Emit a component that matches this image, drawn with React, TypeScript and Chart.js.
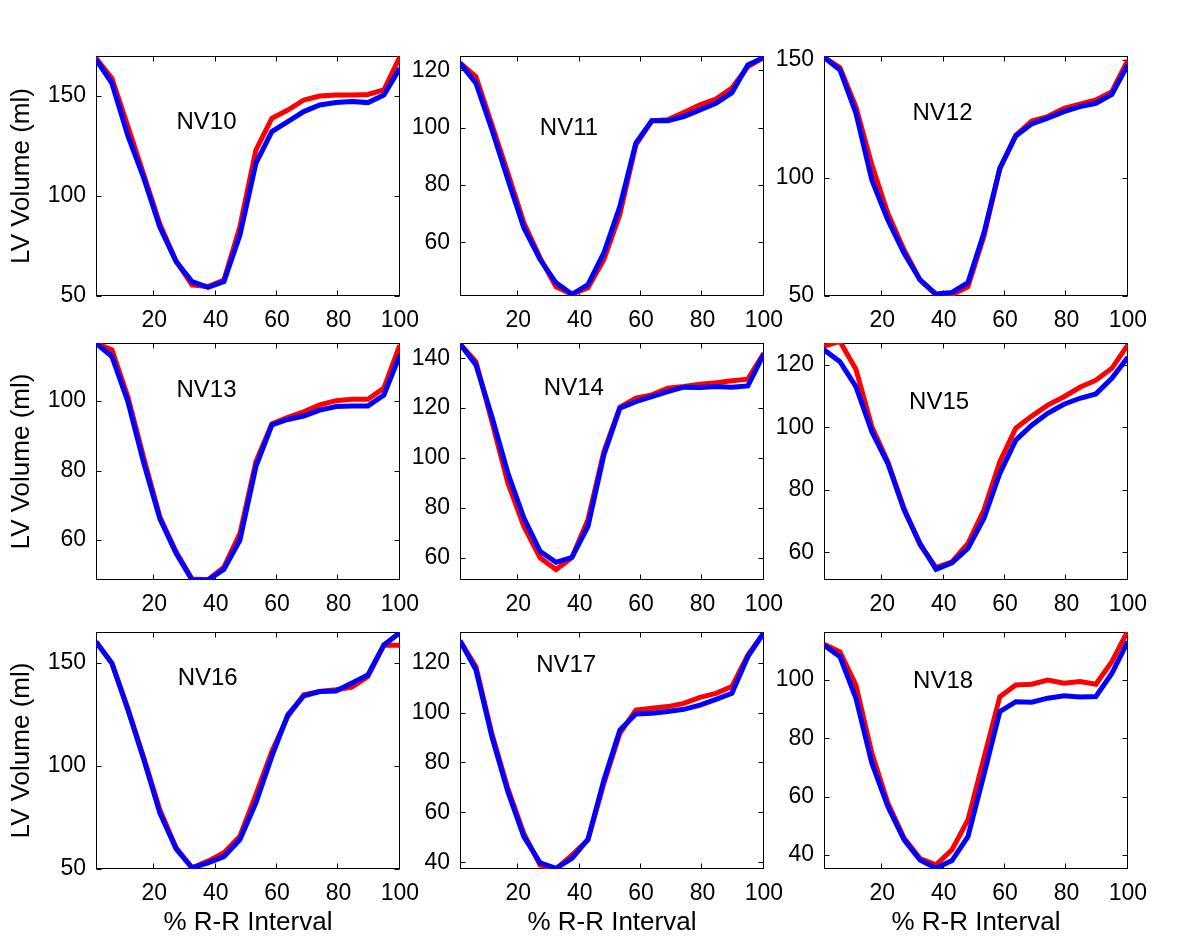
import React, { useEffect, useRef } from "react";
import { Chart, registerables } from "chart.js";

Chart.register(...registerables);

// ---------- data ----------
const rrPercent = [1, 6.2, 11.4, 16.6, 21.8, 27.1, 32.3, 37.5, 42.7, 47.9, 53.1, 58.3, 63.5, 68.7, 73.9, 79.2, 84.4, 89.6, 94.8, 100];
const xTickValues = [20, 40, 60, 80, 100];

const nv10Blue = [168.3, 156.3, 130, 108.8, 84.5, 67.2, 57.2, 54.3, 57.2, 80.5, 116.3, 132.2, 137.2, 142.2, 145.5, 146.7, 147.2, 146.7, 150.5, 163.8];
const nv10Red = [169, 158.8, 134.7, 110.5, 86, 67.5, 55.5, 54.7, 58, 84.7, 123, 138.8, 143, 148, 150, 150.5, 150.5, 150.8, 153, 169.5];
const nv11Blue = [122.5, 115.5, 99.3, 81.9, 65.1, 54, 45.9, 41.9, 45.3, 56.4, 72.6, 94.6, 102.4, 102.4, 103.9, 106.2, 108.5, 112.2, 121.9, 124.5];
const nv11Red = [122.6, 117.8, 101, 84.2, 66.8, 54.6, 44.5, 41.9, 44.2, 54, 69.8, 94, 102.4, 102.8, 105.3, 108, 110, 113.8, 121.3, 124.5];
const nv12Blue = [151, 145.6, 127.3, 99, 82.2, 68.1, 56.8, 50.8, 51.5, 55.7, 76.6, 104, 117.7, 122.8, 125.2, 128, 130.1, 131.5, 135.3, 147.7];
const nv12Red = [151, 146.6, 130, 105.4, 85, 69.5, 56.8, 50.5, 50.5, 53.9, 75.2, 104, 118, 124, 125.9, 129.4, 131.1, 132.9, 136.4, 149.8];
const nv13Blue = [116.6, 112.8, 99.8, 82, 66.2, 56.2, 48.5, 48.5, 51.6, 60, 81.1, 93.1, 94.7, 95.7, 97.4, 98.4, 98.6, 98.6, 101.7, 113.2];
const nv13Red = [116.6, 114.7, 101.2, 83.5, 66.7, 56.6, 48.8, 48.6, 52.2, 61.9, 82.5, 93.4, 95.3, 96.9, 98.9, 100.1, 100.5, 100.5, 103.7, 116.1];
const nv14Blue = [145.7, 137.3, 116.6, 94, 76, 62.6, 58.2, 60.2, 72.6, 101.3, 120, 122.6, 124.6, 126.6, 128.4, 128.3, 128.7, 128.4, 128.9, 141.7];
const nv14Red = [145.7, 138.6, 114.6, 90, 72.6, 60, 55.3, 60.2, 75.3, 102.6, 120.4, 124, 125.3, 128, 128.7, 129.6, 130.2, 131, 131.6, 142];
const nv15Blue = [124.8, 121, 113, 98.6, 88.4, 73.5, 62.8, 54.5, 56.6, 61.2, 70.8, 85.2, 95.9, 100.7, 104.5, 107.4, 109.3, 110.7, 115.7, 122.4];
const nv15Red = [126, 127.5, 118.6, 100.2, 89, 74, 62.3, 55.1, 56.9, 62.8, 73.5, 89, 99.7, 103.6, 107.1, 109.8, 112.8, 115.1, 118.9, 126.4];
const nv16Blue = [160.3, 149.8, 127.2, 103, 77.2, 59.8, 50.6, 53, 56, 64.3, 82.1, 104.6, 124.8, 134, 136.1, 136.4, 140.2, 144.2, 158.7, 164.7];
const nv16Red = [160.3, 149.8, 127.9, 103.8, 78.8, 60.3, 50.6, 53.8, 57.9, 65.9, 86.1, 107, 124, 134.5, 136.1, 137, 138.2, 143.4, 158.6, 158.6];
const nv17Blue = [128.8, 117.1, 90.3, 68.3, 50.3, 39.8, 37.6, 41.6, 49.2, 73, 93, 99.4, 99.7, 100.4, 101.3, 103, 105.3, 107.7, 122.4, 132];
const nv17Red = [128.8, 118.4, 91.5, 69.5, 51.5, 38.9, 37.3, 42.9, 49, 71.7, 91.7, 101, 101.7, 102.4, 103.7, 106.1, 107.7, 110.4, 123.1, 132];
const nv18Blue = [112, 108, 93.8, 71.5, 56.6, 45.2, 38.3, 35.5, 38.1, 46.3, 67.5, 89.2, 92.6, 92.4, 93.8, 94.6, 94.2, 94.4, 102.3, 113.2];
const nv18Red = [112.3, 109.7, 98.3, 74.9, 57.8, 45.8, 38.8, 36.6, 41.8, 52, 73.2, 94.3, 98.3, 98.6, 100, 98.9, 99.5, 98.6, 106.3, 116.9];

const panelNames = ["NV10", "NV11", "NV12", "NV13", "NV14", "NV15", "NV16", "NV17", "NV18"];
const blueSeries = [nv10Blue, nv11Blue, nv12Blue, nv13Blue, nv14Blue, nv15Blue, nv16Blue, nv17Blue, nv18Blue];
const redSeries = [nv10Red, nv11Red, nv12Red, nv13Red, nv14Red, nv15Red, nv16Red, nv17Red, nv18Red];
const yMins = [50, 41.3, 50, 48.5, 51.1, 51.1, 50, 37.3, 35.2];
const yMaxs = [170, 125, 151.5, 116.7, 146.1, 127, 165, 132.3, 116.5];
const yTickLists = [
  [50, 100, 150],
  [60, 80, 100, 120],
  [50, 100, 150],
  [60, 80, 100],
  [60, 80, 100, 120, 140],
  [60, 80, 100, 120],
  [50, 100, 150],
  [40, 60, 80, 100, 120],
  [40, 60, 80, 100],
];
// panel-name anchor points (data coordinates)
const labelX = [37.0, 36.5, 39.6, 37.0, 38.1, 38.5, 37.4, 35.6, 39.8];
const labelY = [137, 99.7, 127.1, 103.0, 127.8, 108.1, 142.4, 118.9, 99.5];

const xAxisTitle = "% R-R Interval";
const yAxisTitle = "LV Volume (ml)";

// ---------- layout ----------
const FONT = "'Liberation Sans', Arial, Helvetica, sans-serif";
const colLeft = [96, 460, 824];
const rowTop = [56, 343, 632];
const plotW = [304, 304, 304];
const plotH = [240, 237, 237];
const PAD_TOP = 24;
const PAD_RIGHT = 30;

const matlabAxes = {
  id: "matlabAxes",
  beforeDatasetsDraw(chart: any, _args: any, opts: any) {
    const { ctx, chartArea: a, scales } = chart;
    const L = Math.round(a.left) + 0.5;
    const R = Math.round(a.right) - 0.5;
    const T = Math.round(a.top) + 0.5;
    const B = Math.round(a.bottom) - 0.5;
    ctx.save();
    ctx.strokeStyle = "#000";
    ctx.lineWidth = 1;
    ctx.strokeRect(L, T, R - L, B - T);
    const len = 5;
    ctx.beginPath();
    for (const v of opts.xTicks) {
      const px = Math.round(scales.x.getPixelForValue(v)) - 0.5;
      ctx.moveTo(px, B);
      ctx.lineTo(px, B - len);
      ctx.moveTo(px, T);
      ctx.lineTo(px, T + len);
    }
    for (const v of opts.yTicks) {
      const py = Math.round(scales.y.getPixelForValue(v)) + 0.5;
      ctx.moveTo(L, py);
      ctx.lineTo(L + len, py);
      ctx.moveTo(R, py);
      ctx.lineTo(R - len, py);
    }
    ctx.stroke();
    ctx.restore();
  },
  afterDatasetsDraw(chart: any, _args: any, opts: any) {
    const { ctx, scales } = chart;
    ctx.save();
    ctx.fillStyle = "#000";
    ctx.font = `24px ${FONT}`;
    ctx.textAlign = "center";
    ctx.textBaseline = "middle";
    ctx.fillText(opts.label, scales.x.getPixelForValue(opts.lx), scales.y.getPixelForValue(opts.ly));
    ctx.restore();
  },
};

function Panel({ idx }: { idx: number }) {
  const ref = useRef<HTMLCanvasElement | null>(null);
  const r = Math.floor(idx / 3);
  const c = idx % 3;
  const yAxisW = c === 0 ? 96 : 70;
  const xAxisH = r === 2 ? 72 : 40;
  const left = colLeft[c] - yAxisW;
  const top = rowTop[r] - PAD_TOP;
  const w = yAxisW + plotW[c] + PAD_RIGHT;
  const h = PAD_TOP + plotH[r] + xAxisH;

  useEffect(() => {
    if (!ref.current) return;
    const yTicks = yTickLists[idx];
    const chart = new Chart(ref.current, {
      type: "line",
      data: {
        datasets: [
          {
            label: "blue",
            data: rrPercent.map((x, i) => ({ x, y: blueSeries[idx][i] })),
            borderColor: "#0000ff",
            borderWidth: 5,
            pointRadius: 0,
            fill: false,
            tension: 0,
          },
          {
            label: "red",
            data: rrPercent.map((x, i) => ({ x, y: redSeries[idx][i] })),
            borderColor: "#ff0000",
            borderWidth: 5,
            pointRadius: 0,
            fill: false,
            tension: 0,
          },
        ],
      },
      options: {
        animation: false,
        responsive: false,
        devicePixelRatio: 1,
        events: [],
        layout: { padding: { top: PAD_TOP, right: PAD_RIGHT, left: 0, bottom: 0 } },
        plugins: {
          legend: { display: false },
          tooltip: { enabled: false },
          matlabAxes: { label: panelNames[idx], lx: labelX[idx], ly: labelY[idx], xTicks: xTickValues, yTicks },
        } as any,
        scales: {
          x: {
            type: "linear",
            min: rrPercent[0],
            max: 100,
            grid: { display: false, drawTicks: false },
            border: { display: false },
            afterBuildTicks: (s: any) => {
              s.ticks = xTickValues.map((v) => ({ value: v }));
            },
            afterFit: (s: any) => {
              s.height = xAxisH;
            },
            ticks: {
              color: "#000",
              font: { family: FONT, size: 23 },
              padding: 11,
              maxRotation: 0,
              autoSkip: false,
              callback: (v: any) => String(v),
            },
            title: {
              display: r === 2,
              text: xAxisTitle,
              color: "#000",
              font: { family: FONT, size: 26 },
              padding: { top: 0, bottom: 3 },
            },
          },
          y: {
            type: "linear",
            min: yMins[idx],
            max: yMaxs[idx],
            grid: { display: false, drawTicks: false },
            border: { display: false },
            afterBuildTicks: (s: any) => {
              s.ticks = yTicks.map((v) => ({ value: v }));
            },
            afterFit: (s: any) => {
              s.width = yAxisW;
            },
            ticks: {
              color: "#000",
              font: { family: FONT, size: 23 },
              padding: 10,
              autoSkip: false,
              callback: (v: any) => String(v),
            },
            title: {
              display: c === 0,
              text: yAxisTitle,
              color: "#000",
              font: { family: FONT, size: 26 },
              padding: { top: 6, bottom: 0 },
            },
          },
        },
      },
      plugins: [matlabAxes as any],
    });
    return () => chart.destroy();
  }, [idx]);

  return (
    <canvas
      ref={ref}
      width={w}
      height={h}
      style={{ position: "absolute", left, top, width: w, height: h }}
    />
  );
}

export default function App() {
  return (
    <div style={{ position: "absolute", left: 0, top: 0, width: 1200, height: 946, background: "#fff", overflow: "hidden" }}>
      {panelNames.map((_, i) => (
        <Panel key={i} idx={i} />
      ))}
    </div>
  );
}
